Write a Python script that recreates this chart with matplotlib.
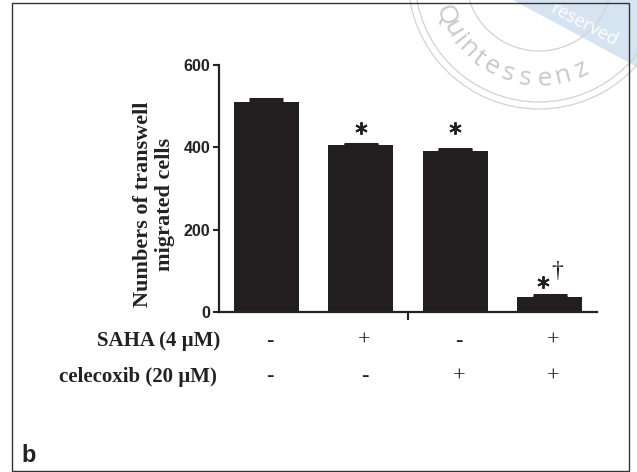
import numpy as np
import matplotlib.pyplot as plt
from matplotlib.patches import Rectangle, Circle, Polygon

# values
groups = [0, 1, 2, 3]
means = [511, 406, 392, 38]
errs = [7, 3, 3, 3]
saha = ['-', '+', '-', '+']
celecoxib = ['-', '-', '+', '+']
yticks = [0, 200, 400, 600]

dark = '#231f20'
serif = ['Liberation Serif', 'DejaVu Serif']
sans = ['Liberation Sans', 'DejaVu Sans']

fig = plt.figure(figsize=(6.37, 4.72), dpi=100)

# watermark layer in pixel coordinates (y down)
wm = fig.add_axes([0, 0, 1, 1], zorder=0)
wm.set_xlim(0, 637)
wm.set_ylim(472, 0)
wm.axis('off')
wm.add_patch(Polygon([(513, 0), (637, 0), (637, 67)], closed=True,
                     facecolor='#d6e4f1', edgecolor='none'))
cx, cy = 539, -22
for r in [73, 124, 131]:
    wm.add_patch(Circle((cx, cy), r, fill=False, edgecolor='#d2d2d2', lw=0.9))
word = 'Quintessenz'
angles = [158, 149, 142, 135, 127, 118, 108, 98, 87, 76, 65]
for ch, a in zip(word, angles):
    t = np.deg2rad(a)
    wm.text(cx + 101 * np.cos(t), cy + 101 * np.sin(t), ch, rotation=90 - a,
            ha='center', va='center', fontsize=19, color='#c9c9c9',
            family='Open Sans', rotation_mode='anchor')
wm.text(584, 25, 'reserved', rotation=-28, ha='center', va='center',
        fontsize=13, color='white', family='Open Sans', rotation_mode='anchor')

# panel frame
fig.patches.append(Rectangle((0.0188, 0.00275), 0.969, 0.990, transform=fig.transFigure,
                             fill=False, edgecolor='#333333', lw=1.0))

ax = fig.add_axes([0.3443, 0.3383, 0.5924, 0.524], zorder=1)
ax.patch.set_alpha(0)
ax.bar(groups, means, width=0.69, color=dark, zorder=2)
ax.errorbar(groups, means, yerr=[[0] * 4, errs], fmt='none', ecolor=dark,
            elinewidth=2, capsize=12.5, capthick=2.2, zorder=3)

ax.set_xlim(-0.5, 3.5)
ax.set_ylim(0, 600)
ax.set_yticks(yticks)
ax.set_yticklabels([str(v) for v in yticks], fontsize=11.5, fontweight='bold',
                   family=sans, color='#222222')
ax.set_xticks([1.5])
ax.set_xticklabels([''])
ax.tick_params(axis='y', length=4.5, width=1.5, pad=2, color='#222222')
ax.tick_params(axis='x', length=5.5, width=1.5, color='#222222')
for s in ['top', 'right']:
    ax.spines[s].set_visible(False)
for s in ['left', 'bottom']:
    ax.spines[s].set_linewidth(1.6)
    ax.spines[s].set_color('#222222')

# significance marks
ax.plot([1, 2], [447, 447], ls='none', marker=(6, 2, 0), ms=9, mew=1.4, color=dark)
ax.plot([2.93], [74], ls='none', marker=(6, 2, 0), ms=9, mew=1.4, color=dark)
ax.text(3.08, 98, '†', ha='center', va='center', fontsize=17, family=serif, color=dark)

fig.text(0.2414, 0.5678, 'Numbers of transwell\nmigrated cells', rotation=90,
         ha='center', va='center', fontsize=16, fontweight='bold', family=serif,
         color='#222222', linespacing=1.15)

# treatment rows
fig.text(0.3465, 0.2765, 'SAHA (4 µM)', ha='right', va='center', fontsize=15,
         fontweight='bold', family=serif, color='#222222')
fig.text(0.3405, 0.2013, 'celecoxib (20 µM)', ha='right', va='center', fontsize=15,
         fontweight='bold', family=serif, color='#222222')
for g, a, b in zip(groups, saha, celecoxib):
    xf = ax.transData.transform((g + 0.04, 0))[0] / fig.bbox.width
    fig.text(xf, 0.2765, a, ha='center', va='center', fontsize=16, family=serif, color='#222222')
    fig.text(xf, 0.2013, b, ha='center', va='center', fontsize=16, family=serif, color='#222222')

fig.text(0.034, 0.0218, 'b', ha='left', va='baseline', fontsize=17,
         fontweight='bold', family=sans, color='#222222')

fig.savefig('out.png', dpi=100)
